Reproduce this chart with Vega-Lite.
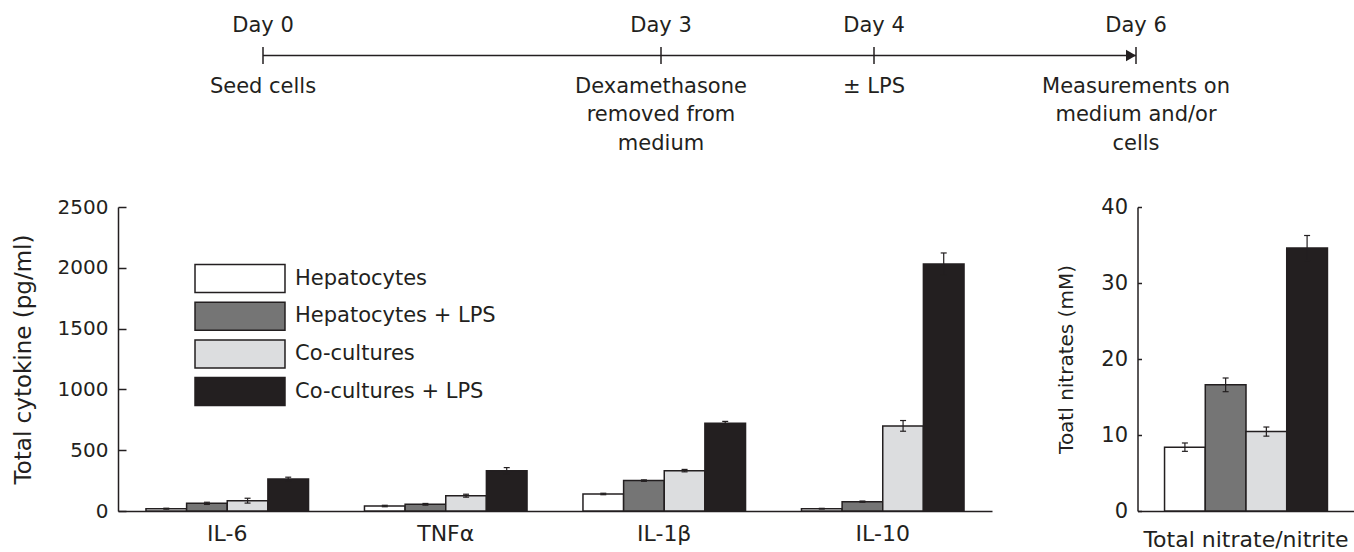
{
  "$schema": "https://vega.github.io/schema/vega-lite/v6.json",
  "padding": {"left": 12, "top": 0, "right": 0, "bottom": 0},
  "background": "#ffffff",
  "config": {
    "view": {"stroke": null},
    "font": "DejaVu Sans",
    "axis": {"grid": false, "labelColor": "#231f20", "titleColor": "#231f20", "domainColor": "#231f20", "tickColor": "#231f20", "titleFontWeight": "normal"}
  },
  "datasets": {
    "timeline": [
      {"day": 0, "top": "Day 0", "bottom": "Seed cells"},
      {"day": 3, "top": "Day 3", "bottom": "Dexamethasone\nremoved from\nmedium"},
      {"day": 4, "top": "Day 4", "bottom": "± LPS"},
      {"day": 6, "top": "Day 6", "bottom": "Measurements on\nmedium and/or\ncells"}
    ],
    "cytokines": [
      {"cytokine": "IL-6", "group": "Hepatocytes", "value": 19, "lo": 15, "hi": 23},
      {"cytokine": "IL-6", "group": "Hepatocytes + LPS", "value": 63, "lo": 54, "hi": 72},
      {"cytokine": "IL-6", "group": "Co-cultures", "value": 85, "lo": 65, "hi": 105},
      {"cytokine": "IL-6", "group": "Co-cultures + LPS", "value": 263, "lo": 248, "hi": 278},
      {"cytokine": "TNFα", "group": "Hepatocytes", "value": 41, "lo": 35, "hi": 47},
      {"cytokine": "TNFα", "group": "Hepatocytes + LPS", "value": 55, "lo": 48, "hi": 62},
      {"cytokine": "TNFα", "group": "Co-cultures", "value": 126, "lo": 114, "hi": 138},
      {"cytokine": "TNFα", "group": "Co-cultures + LPS", "value": 332, "lo": 307, "hi": 357},
      {"cytokine": "IL-1β", "group": "Hepatocytes", "value": 140, "lo": 134, "hi": 146},
      {"cytokine": "IL-1β", "group": "Hepatocytes + LPS", "value": 250, "lo": 244, "hi": 256},
      {"cytokine": "IL-1β", "group": "Co-cultures", "value": 332, "lo": 322, "hi": 342},
      {"cytokine": "IL-1β", "group": "Co-cultures + LPS", "value": 722, "lo": 707, "hi": 737},
      {"cytokine": "IL-10", "group": "Hepatocytes", "value": 19, "lo": 16, "hi": 22},
      {"cytokine": "IL-10", "group": "Hepatocytes + LPS", "value": 77, "lo": 72, "hi": 82},
      {"cytokine": "IL-10", "group": "Co-cultures", "value": 700, "lo": 656, "hi": 744},
      {"cytokine": "IL-10", "group": "Co-cultures + LPS", "value": 2032, "lo": 1942, "hi": 2122}
    ],
    "nitrate": [
      {"measure": "Total nitrate/nitrite", "group": "Hepatocytes", "value": 8.4, "lo": 7.85, "hi": 8.95},
      {"measure": "Total nitrate/nitrite", "group": "Hepatocytes + LPS", "value": 16.6, "lo": 15.7, "hi": 17.5},
      {"measure": "Total nitrate/nitrite", "group": "Co-cultures", "value": 10.45, "lo": 9.85, "hi": 11.05},
      {"measure": "Total nitrate/nitrite", "group": "Co-cultures + LPS", "value": 34.6, "lo": 32.95, "hi": 36.25}
    ]
  },
  "spacing": 42,
  "resolve": {"scale": {"x": "independent", "y": "independent", "color": "independent"}},
  "vconcat": [
    {
      "width": 1200,
      "height": 111,
      "data": {"name": "timeline"},
      "encoding": {
        "x": {"field": "day", "type": "quantitative", "scale": {"domain": [0, 3, 4, 6], "range": [145, 543, 756, 1018], "nice": false, "zero": false}, "axis": null}
      },
      "layer": [
        {
          "mark": {"type": "rule", "stroke": "#231f20", "strokeWidth": 1.5},
          "encoding": {
            "x": {"aggregate": "min", "field": "day", "type": "quantitative"},
            "x2": {"aggregate": "max", "field": "day"}
          }
        },
        {
          "mark": {"type": "tick", "orient": "vertical", "size": 17, "thickness": 1.5, "color": "#231f20", "opacity": 1}
        },
        {
          "mark": {"type": "point", "shape": "M-1,-1.17L1,0L-1,1.17Z", "size": 100, "filled": true, "color": "#231f20", "opacity": 1, "xOffset": -5},
          "encoding": {"x": {"aggregate": "max", "field": "day", "type": "quantitative"}}
        },
        {
          "mark": {"type": "text", "dy": -24, "baseline": "alphabetic", "align": "center", "fontSize": 21, "color": "#231f20"},
          "encoding": {"text": {"field": "top", "type": "nominal"}}
        },
        {
          "mark": {"type": "text", "dy": 37.5, "baseline": "alphabetic", "align": "center", "fontSize": 21, "color": "#231f20", "lineBreak": "\n", "lineHeight": 28.3},
          "encoding": {"text": {"field": "bottom", "type": "nominal"}}
        }
      ]
    },
    {
      "spacing": 64.5,
      "resolve": {"scale": {"x": "independent", "y": "independent", "color": "independent", "xOffset": "independent"}, "legend": {"color": "independent"}},
      "hconcat": [
        {
          "width": 874,
          "height": 304,
          "data": {"name": "cytokines"},
          "encoding": {
            "x": {"field": "cytokine", "type": "nominal", "sort": ["IL-6", "TNFα", "IL-1β", "IL-10"], "scale": {"paddingInner": 0.256, "paddingOuter": 0.128},
                  "axis": {"title": null, "labelAngle": 0, "ticks": false, "labelFontSize": 22, "labelPadding": 12, "domainWidth": 1.5}},
            "xOffset": {"field": "group", "type": "nominal", "sort": ["Hepatocytes", "Hepatocytes + LPS", "Co-cultures", "Co-cultures + LPS"], "scale": {"paddingInner": 0, "paddingOuter": 0}}
          },
          "layer": [
            {
              "mark": {"type": "bar", "stroke": "#231f20", "strokeWidth": 1.5},
              "encoding": {
                "y": {"field": "value", "type": "quantitative", "scale": {"domain": [0, 2500], "nice": false},
                      "axis": {"values": [0, 500, 1000, 1500, 2000, 2500], "format": "d", "title": "Total cytokine (pg/ml)", "titleFontSize": 23, "titlePadding": 22, "labelFontSize": 20, "tickSize": -8, "tickWidth": 1.5, "labelPadding": 18, "domainWidth": 1.5}},
                "color": {"field": "group", "type": "nominal", "sort": ["Hepatocytes", "Hepatocytes + LPS", "Co-cultures", "Co-cultures + LPS"],
                          "scale": {"domain": ["Hepatocytes", "Hepatocytes + LPS", "Co-cultures", "Co-cultures + LPS"], "range": ["#ffffff", "#757575", "#dcdddf", "#231f20"]},
                          "legend": {"orient": "none", "legendX": 107, "legendY": 56.5, "title": null, "padding": 0, "symbolType": "M-3.214,-1H3.214V1H-3.214Z", "symbolSize": 784, "symbolStrokeColor": "#231f20", "symbolStrokeWidth": 1.5, "symbolOpacity": 1, "labelFontSize": 21, "labelColor": "#231f20", "labelOffset": 40, "rowPadding": 3.7, "labelLimit": 400}}
              }
            },
            {
              "mark": {"type": "rule", "stroke": "#231f20", "strokeWidth": 1.2},
              "encoding": {"y": {"field": "lo", "type": "quantitative"}, "y2": {"field": "hi"}}
            },
            {
              "mark": {"type": "tick", "orient": "horizontal", "size": 6, "thickness": 1.2, "color": "#231f20", "opacity": 1},
              "encoding": {"y": {"field": "hi", "type": "quantitative"}}
            },
            {
              "mark": {"type": "tick", "orient": "horizontal", "size": 6, "thickness": 1.2, "color": "#231f20", "opacity": 1},
              "encoding": {"y": {"field": "lo", "type": "quantitative"}}
            }
          ]
        },
        {
          "width": 217,
          "height": 304,
          "data": {"name": "nitrate"},
          "encoding": {
            "x": {"field": "measure", "type": "nominal", "scale": {"paddingInner": 0, "paddingOuter": 0.166},
                  "axis": {"title": null, "labelAngle": 0, "ticks": false, "labelFontSize": 22, "labelPadding": 18, "domainWidth": 1.5, "labelLimit": 400}},
            "xOffset": {"field": "group", "type": "nominal", "sort": ["Hepatocytes", "Hepatocytes + LPS", "Co-cultures", "Co-cultures + LPS"], "scale": {"paddingInner": 0, "paddingOuter": 0}}
          },
          "layer": [
            {
              "mark": {"type": "bar", "stroke": "#231f20", "strokeWidth": 1.5},
              "encoding": {
                "y": {"field": "value", "type": "quantitative", "scale": {"domain": [0, 40], "nice": false},
                      "axis": {"values": [0, 10, 20, 30, 40], "format": "d", "title": "Toatl nitrates (mM)", "titleFontSize": 20, "titlePadding": 24, "labelFontSize": 21, "tickSize": -4, "tickWidth": 1.5, "labelPadding": 14, "domainWidth": 1.5}},
                "color": {"field": "group", "type": "nominal", "sort": ["Hepatocytes", "Hepatocytes + LPS", "Co-cultures", "Co-cultures + LPS"],
                          "scale": {"domain": ["Hepatocytes", "Hepatocytes + LPS", "Co-cultures", "Co-cultures + LPS"], "range": ["#ffffff", "#757575", "#dcdddf", "#231f20"]},
                          "legend": null}
              }
            },
            {
              "mark": {"type": "rule", "stroke": "#231f20", "strokeWidth": 1.2},
              "encoding": {"y": {"field": "lo", "type": "quantitative"}, "y2": {"field": "hi"}}
            },
            {
              "mark": {"type": "tick", "orient": "horizontal", "size": 6, "thickness": 1.2, "color": "#231f20", "opacity": 1},
              "encoding": {"y": {"field": "hi", "type": "quantitative"}}
            },
            {
              "mark": {"type": "tick", "orient": "horizontal", "size": 6, "thickness": 1.2, "color": "#231f20", "opacity": 1},
              "encoding": {"y": {"field": "lo", "type": "quantitative"}}
            }
          ]
        }
      ]
    }
  ]
}
